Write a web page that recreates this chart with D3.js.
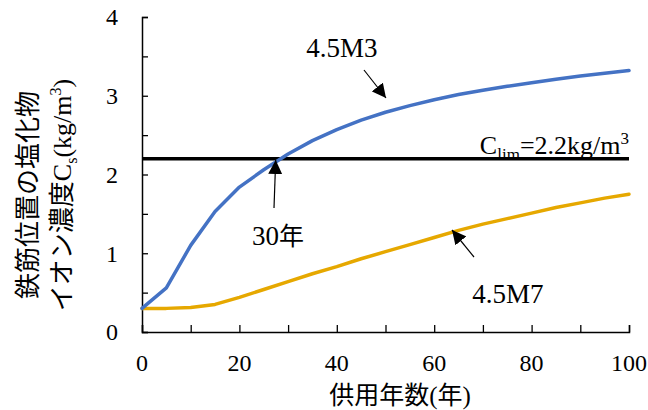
<!DOCTYPE html>
<html>
<head>
<meta charset="utf-8">
<script src="https://cdn.jsdelivr.net/npm/d3@7"></script>
<style>
  body { margin: 0; background: #fff; }
</style>
</head>
<body>
<div id="chart"></div>
<script>
// data
var years = [0, 5, 10, 15, 20, 25, 30, 35, 40, 45, 50, 55, 60, 65, 70, 75, 80, 85, 90, 95, 100];
var m3 = [0.30, 0.56, 1.10, 1.53, 1.84, 2.06, 2.26, 2.43, 2.57, 2.69, 2.79, 2.875, 2.95, 3.015, 3.07, 3.12, 3.165, 3.21, 3.25, 3.285, 3.32];
var m7 = [0.30, 0.30, 0.31, 0.35, 0.44, 0.54, 0.64, 0.74, 0.83, 0.93, 1.02, 1.11, 1.20, 1.29, 1.37, 1.44, 1.51, 1.58, 1.64, 1.70, 1.75];
var cLim = 2.2;
var xTicks = [0, 20, 40, 60, 80, 100];
var yTicks = [0, 1, 2, 3, 4];

var SERIF = "'Liberation Serif', serif";
var CJK = "'Noto Sans CJK JP', sans-serif";

var W = 648, H = 410;
var margin = {top: 17, right: 19, bottom: 78, left: 142},
    width = W - margin.left - margin.right,
    height = H - margin.top - margin.bottom;

var svg = d3.select("#chart").append("svg")
    .attr("width", W)
    .attr("height", H);

var defs = svg.append("defs");
defs.append("marker")
    .attr("id", "head")
    .attr("viewBox", "0 0 10 10")
    .attr("refX", 10).attr("refY", 5)
    .attr("markerWidth", 14).attr("markerHeight", 14)
    .attr("markerUnits", "userSpaceOnUse")
    .attr("orient", "auto")
  .append("path")
    .attr("d", "M0,0L10,5L0,10Z")
    .attr("fill", "#000");

var g = svg.append("g")
    .attr("transform", "translate(" + margin.left + "," + margin.top + ")");

var x = d3.scaleLinear().domain([0, 100]).range([0, width]);
var y = d3.scaleLinear().domain([0, 4]).range([height, 0]);

// axes, ticks inward
var xAxis = g.append("g")
    .attr("transform", "translate(0," + height + ")")
    .call(d3.axisBottom(x).tickValues(d3.range(0, 101, 10)).tickSize(-7).tickPadding(0).tickFormat(""));
xAxis.select(".domain").attr("stroke", "#000").attr("stroke-width", 1.5);
xAxis.selectAll(".tick line").attr("stroke", "#000").attr("stroke-width", 1.3);

var yAxis = g.append("g")
    .call(d3.axisLeft(y).tickValues(d3.range(0, 4.01, 0.5)).tickSize(-6).tickFormat(""));
yAxis.select(".domain").attr("stroke", "#000").attr("stroke-width", 1.5);
yAxis.selectAll(".tick line").attr("stroke", "#000").attr("stroke-width", 1.3);

g.selectAll(".xlab")
    .data(xTicks)
  .enter().append("text")
    .attr("x", function(d) { return x(d); })
    .attr("y", height + 39)
    .attr("text-anchor", "middle")
    .attr("font-family", SERIF)
    .attr("font-size", 24)
    .text(function(d) { return d; });

g.selectAll(".ylab")
    .data(yTicks)
  .enter().append("text")
    .attr("x", -24)
    .attr("y", function(d) { return y(d); })
    .attr("dy", "0.35em")
    .attr("text-anchor", "end")
    .attr("font-family", SERIF)
    .attr("font-size", 24)
    .text(function(d) { return d; });

// limit line
g.append("line")
    .attr("x1", x(0)).attr("x2", x(100))
    .attr("y1", y(cLim)).attr("y2", y(cLim))
    .attr("stroke", "#000")
    .attr("stroke-width", 3.5);

var line = d3.line()
    .x(function(d) { return x(d[0]); })
    .y(function(d) { return y(d[1]); });

g.append("path")
    .datum(d3.zip(years, m7))
    .attr("fill", "none")
    .attr("stroke", "#E6A800")
    .attr("stroke-width", 3.5)
    .attr("stroke-linejoin", "round")
    .attr("stroke-linecap", "round")
    .attr("d", line);

g.append("path")
    .datum(d3.zip(years, m3))
    .attr("fill", "none")
    .attr("stroke", "#4472C4")
    .attr("stroke-width", 3.5)
    .attr("stroke-linejoin", "round")
    .attr("stroke-linecap", "round")
    .attr("d", line);

// annotations
var t = g.append("text")
    .attr("x", x(100))
    .attr("y", y(cLim) - 5)
    .attr("text-anchor", "end")
    .attr("font-family", SERIF)
    .attr("font-size", 26);
t.append("tspan").text("C");
t.append("tspan").attr("dy", 6).attr("font-size", 17).text("lim");
t.append("tspan").attr("dy", -6).text("=2.2kg/m");
t.append("tspan").attr("dy", -10).attr("font-size", 17).text("3");

function arrow(x1, y1, x2, y2) {
  g.append("line")
      .attr("x1", x1 - margin.left).attr("y1", y1 - margin.top)
      .attr("x2", x2 - margin.left).attr("y2", y2 - margin.top)
      .attr("stroke", "#000")
      .attr("stroke-width", 1.2)
      .attr("marker-end", "url(#head)");
}
arrow(364, 70, 386, 98);
arrow(274, 208, 275.7, 160);
arrow(474, 257, 452, 230);

// text made of [string, font, size, dy] runs
function runs(sel, parts) {
  parts.forEach(function(p) {
    var s = sel.append("tspan").attr("font-family", p[1]).text(p[0]);
    if (p[2]) s.attr("font-size", p[2]);
    if (p[3]) s.attr("dy", p[3]);
  });
}

function label(px, py, parts) {
  var s = g.append("text")
      .attr("x", px - margin.left).attr("y", py - margin.top)
      .attr("text-anchor", "middle")
      .attr("font-size", 27);
  runs(s, parts);
}
label(342, 57, [["4.5M3", SERIF]]);
label(278, 245, [["30", SERIF], ["年", CJK, 25]]);
label(508, 303, [["4.5M7", SERIF]]);

// axis titles
var xt = svg.append("text")
    .attr("x", 400).attr("y", 404)
    .attr("text-anchor", "middle")
    .attr("font-size", 25);
runs(xt, [["供用年数", CJK], ["(", SERIF], ["年", CJK], [")", SERIF]]);

var yt1 = svg.append("text")
    .attr("transform", "translate(37,195) rotate(-90)")
    .attr("text-anchor", "middle")
    .attr("font-size", 26);
runs(yt1, [["鉄筋位置の塩化物", CJK]]);

var yt2 = svg.append("text")
    .attr("transform", "translate(71,195) rotate(-90)")
    .attr("text-anchor", "middle")
    .attr("font-size", 26);
runs(yt2, [["イオン濃度", CJK], ["C", SERIF], ["s", SERIF, 16, 6], ["(kg/m", SERIF, null, -6],
           ["3", SERIF, 16, -10], [")", SERIF, null, 10]]);
</script>
</body>
</html>
